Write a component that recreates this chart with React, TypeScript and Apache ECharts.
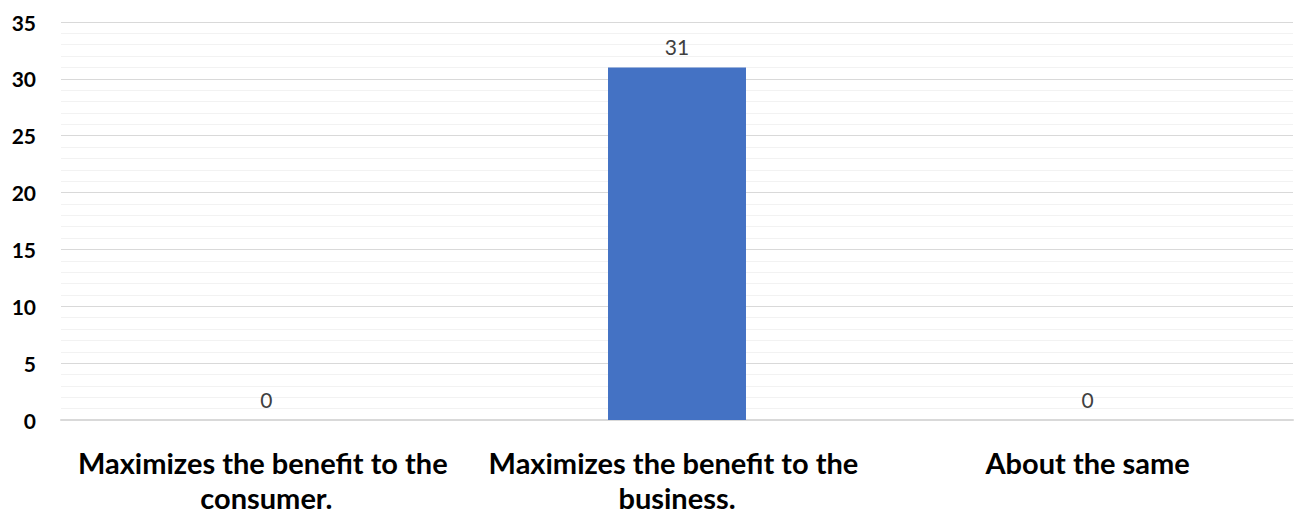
import React, { useEffect, useRef } from "react";
import * as echarts from "echarts";

const categories = [
  "Maximizes the benefit to the consumer.",
  "Maximizes the benefit to the business.",
  "About the same",
];
const counts = [0, 31, 0];
const yMin = 0;
const yMax = 35;
const yStep = 5;

export default function App() {
  const ref = useRef<HTMLDivElement>(null);

  useEffect(() => {
    if (!ref.current) return;
    const chart = echarts.init(ref.current, undefined, { renderer: "svg" });
    chart.setOption({
      animation: false,
      grid: { left: 61, right: 3, top: 22, bottom: 93, containLabel: false },
      xAxis: {
        type: "category",
        data: categories,
        axisLine: { show: true, lineStyle: { color: "#d9d9d9", width: 2 } },
        axisTick: { show: false },
        axisLabel: {
          interval: 0,
          margin: 25,
          width: 395,
          overflow: "break",
          fontFamily: "Lato",
          fontWeight: "bold",
          fontSize: 29,
          lineHeight: 35,
          color: "#000",
        },
      },
      yAxis: {
        type: "value",
        min: yMin,
        max: yMax,
        interval: yStep,
        axisLine: { show: false },
        axisTick: { show: false },
        axisLabel: {
          margin: 25,
          fontFamily: "Lato",
          fontWeight: "bold",
          fontSize: 21,
          color: "#000",
        },
        splitLine: { show: true, lineStyle: { color: "#d9d9d9", width: 1 } },
        minorTick: { show: false, splitNumber: 5 },
        minorSplitLine: { show: true, lineStyle: { color: "#f2f2f2", width: 1 } },
      },
      series: [
        {
          type: "bar",
          data: counts,
          barWidth: "33.6%",
          itemStyle: { color: "#4472c4" },
          label: {
            show: true,
            position: "top",
            distance: 10,
            fontFamily: "Lato",
            fontSize: 21,
            color: "#404040",
          },
        },
      ],
    });
    return () => chart.dispose();
  }, []);

  return (
    <div
      ref={ref}
      style={{ position: "absolute", left: 0, top: 0, width: 1296, height: 515 }}
    />
  );
}
